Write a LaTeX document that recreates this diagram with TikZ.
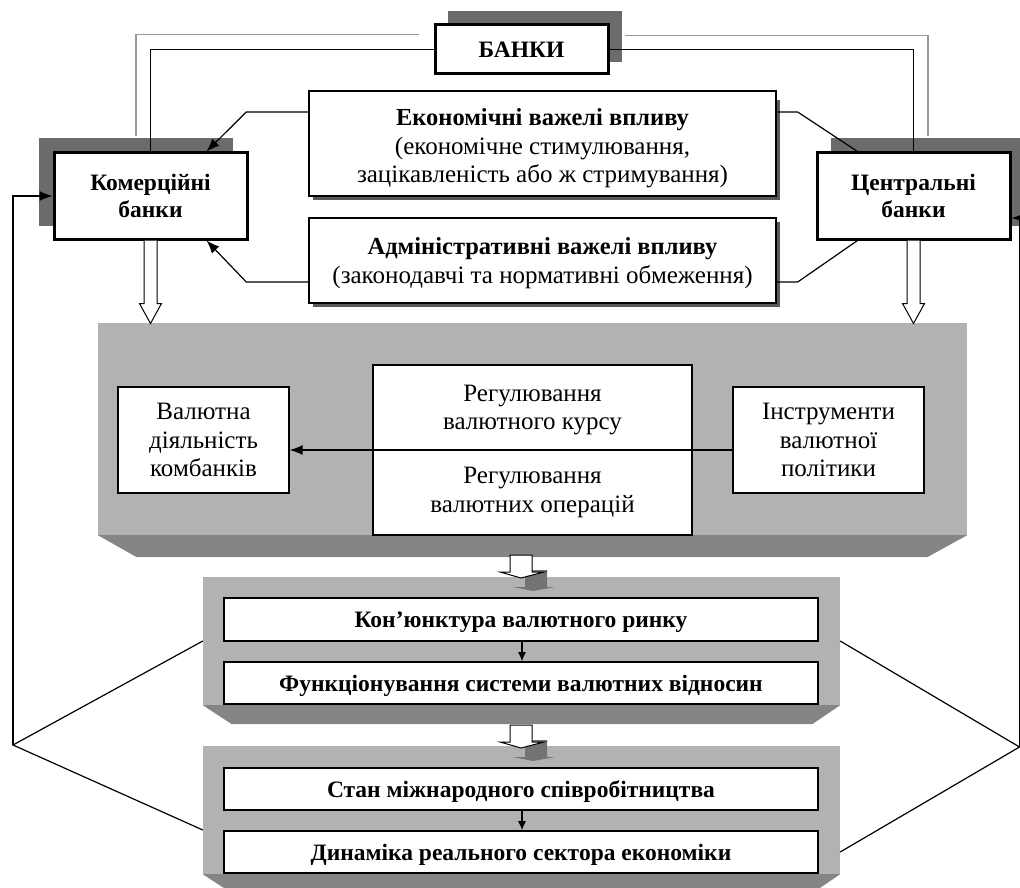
\documentclass[tikz,border=0pt]{standalone}
\usepackage{fontspec}
\setmainfont{Liberation Serif}
\usetikzlibrary{arrows.meta,calc}
\definecolor{panelgray}{gray}{0.70}
\definecolor{bevelgray}{gray}{0.52}
\definecolor{shadowgray}{gray}{0.42}
\definecolor{edgegray}{gray}{0.35}
\definecolor{ghostline}{gray}{0.6}
\begin{document}
\begin{tikzpicture}[x=1pt,y=-1pt,
  bankbox/.style={draw, line width=3pt, fill=white, align=center, inner sep=0pt,
    font=\bfseries\fontsize{23.5}{27}\selectfont},
  levbox/.style={draw, line width=1.4pt, fill=white, align=center, inner sep=0pt,
    font=\fontsize{25}{28.5}\selectfont},
  midbox/.style={draw, line width=1.3pt, fill=white, align=center, inner sep=0pt,
    font=\fontsize{25}{28.5}\selectfont},
  lowbox/.style={draw, line width=1.6pt, fill=white, inner sep=0pt,
    text height=17pt, text depth=1pt,
    font=\bfseries\fontsize{23.5}{26}\selectfont},
  panel/.style={fill=panelgray, inner sep=0pt},
  bankshadow/.style={fill=shadowgray},
  link/.style={line width=1.2pt},
  ghost/.style={line width=1.1pt, draw=ghostline},
  arr/.style={line width=1.2pt, -{Latex[length=13pt,width=10pt]}},
  smallarr/.style={line width=1.2pt, -{Latex[length=9pt,width=8pt]}},
  hollow/.style={draw, fill=white, line width=1pt},
]
\useasboundingbox (0,0) rectangle (1020,888);

% ---------- panels ----------
\node[panel, minimum width=869pt, minimum height=212pt] (pmid) at (532.5,429) {};
\fill[bevelgray] (pmid.south west) -- (pmid.south east) -- ([xshift=-40pt,yshift=-22pt]pmid.south east) -- ([xshift=39pt,yshift=-22pt]pmid.south west) -- cycle;
\node[panel, minimum width=637pt, minimum height=128pt] (p1) at (521.5,641) {};
\fill[bevelgray] (p1.south west) -- (p1.south east) -- ([xshift=-28pt,yshift=-19pt]p1.south east) -- ([xshift=29pt,yshift=-19pt]p1.south west) -- cycle;
\node[panel, minimum width=637pt, minimum height=128pt] (p2) at (521.5,810) {};
\fill[bevelgray] (p2.south west) -- (p2.south east) -- ([xshift=-28pt,yshift=-19pt]p2.south east) -- ([xshift=29pt,yshift=-19pt]p2.south west) -- cycle;

% ---------- top boxes ----------
\fill[bankshadow] (448,11) rectangle (622,62);
\fill[bankshadow] (39,138) rectangle (233,226);
\fill[bankshadow] (831,138) rectangle (1025,226);

\node[bankbox, minimum width=173pt, minimum height=49pt] (banky) at (521.5,49.5) {БАНКИ};
\node[bankbox, minimum width=193pt, minimum height=86pt] (kom) at (150.5,196) {Комерційні\\банки};
\node[bankbox, minimum width=193pt, minimum height=86pt] (cen) at (913.5,196) {Центральні\\банки};

\fill[edgegray] (313,100) rectangle (780,200);
\node[levbox, minimum width=467pt, minimum height=105pt] (econ) at (542.5,143.5)
  {\rule{0pt}{27pt}{\bfseries\fontsize{24.5}{28.5}\selectfont Економічні важелі впливу}\\(економічне стимулювання,\\зацікавленість або ж стримування)};
\fill[edgegray] (313,222) rectangle (780,307);
\node[levbox, minimum width=467pt, minimum height=85pt] (adm) at (542.5,260.5)
  {\rule{0pt}{22pt}{\bfseries\fontsize{24.5}{28.5}\selectfont Адміністративні важелі впливу}\\(законодавчі та нормативні обмеження)};

% ---------- middle panel boxes ----------
\node[midbox, minimum width=171pt, minimum height=106pt] (val) at (203.5,440) {Валютна\\діяльність\\комбанків};
\node[midbox, minimum width=319pt, minimum height=85pt] (reg1) at (532.5,407.5) {\rule{0pt}{21pt}Регулювання\\валютного курсу};
\node[midbox, minimum width=319pt, minimum height=85pt] (reg2) at (532.5,492.5) {Регулювання\\валютних операцій};
\node[midbox, minimum width=191pt, minimum height=106pt] (instr) at (828.5,440) {Інструменти\\валютної\\політики};

% ---------- lower boxes ----------
\node[lowbox, minimum width=594pt, minimum height=43pt] (kon) at (521,619.5) {Кон’юнктура валютного ринку};
\node[lowbox, minimum width=594pt, minimum height=42pt] (fun) at (521,683) {Функціонування системи валютних відносин};
\node[lowbox, minimum width=594pt, minimum height=42pt] (stan) at (521,789) {Стан міжнародного співробітництва};
\node[lowbox, minimum width=594pt, minimum height=42pt] (dyn) at (521,852) {Динаміка реального сектора економіки};

% ---------- connectors from БАНКИ ----------
\draw[ghost] ([xshift=-15pt,yshift=15pt]banky.west) -| ([xshift=-14.5pt,yshift=15pt]kom.north);
\draw[ghost] ([xshift=15pt,yshift=14pt]banky.east) -| ([xshift=14.5pt,yshift=15pt]cen.north);
\draw[link] (banky.west) -| (kom.north);
\draw[link] (banky.east) -| (cen.north);

% ---------- levers ----------
\draw[arr] ([yshift=31.5pt]econ.west) -- ++(-62,0) -- ([xshift=-42pt]kom.north east);
\draw[link] ([yshift=31.5pt]econ.east) -- ++(21,0) -- ([xshift=42pt]cen.north west);
\draw[arr] ([yshift=-21.5pt]adm.west) -- ++(-62,0) -- ([xshift=-42pt]kom.south east);
\draw[link] ([yshift=-21.5pt]adm.east) -- ++(21,0) -- ([xshift=42pt]cen.south west);

% ---------- hollow block arrows ----------
\draw[hollow] ([xshift=-6.5pt]kom.south) -- ++(0,63) -- ++(-4.5,0) -- ++(11,20) -- ++(11,-20) -- ++(-4.5,0) -- ++(0,-63);
\draw[hollow] ([xshift=-6.5pt]cen.south) -- ++(0,63) -- ++(-4.5,0) -- ++(11,20) -- ++(11,-20) -- ++(-4.5,0) -- ++(0,-63);

% between panels
\coordinate (a1) at (521,555);
\coordinate (a2) at (521,725);
\foreach \a in {a1,a2}{
  \fill[black!55] ([xshift=4pt,yshift=-15pt]\a) -- ++(22,0) -- ++(0,17) -- ++(8,0) -- ++(-22,4) -- ++(-20,-4) -- ++(12,0) -- cycle;
  \draw[hollow] ([xshift=-11pt]\a) -- ++(0,17) -- ++(-10,0) -- ++(21,6) -- ++(23,-6) -- ++(-12,0) -- ++(0,-17) -- cycle;
}

% ---------- inner arrows ----------
\draw[arr] ([yshift=-10pt]instr.west) -- ([yshift=-10pt]val.east);
\draw[smallarr] ([xshift=1pt]kon.south) -- ([xshift=1pt]fun.north);
\draw[smallarr] ([xshift=1pt]stan.south) -- ([xshift=1pt]dyn.north);

% ---------- feedback lines ----------
\coordinate (fbL) at (13,745);
\coordinate (fbR) at (1019.5,747);
\draw[link] (p1.west) -- (fbL) -- ([yshift=-20pt]p2.west);
\draw[link] (p1.east) -- (fbR) -- ([yshift=-42pt]p2.east);
\draw[arr] (fbL) |- (kom.west);
\draw[arr] (fbR) |- ([yshift=-22pt]cen.east);
\end{tikzpicture}
\end{document}
